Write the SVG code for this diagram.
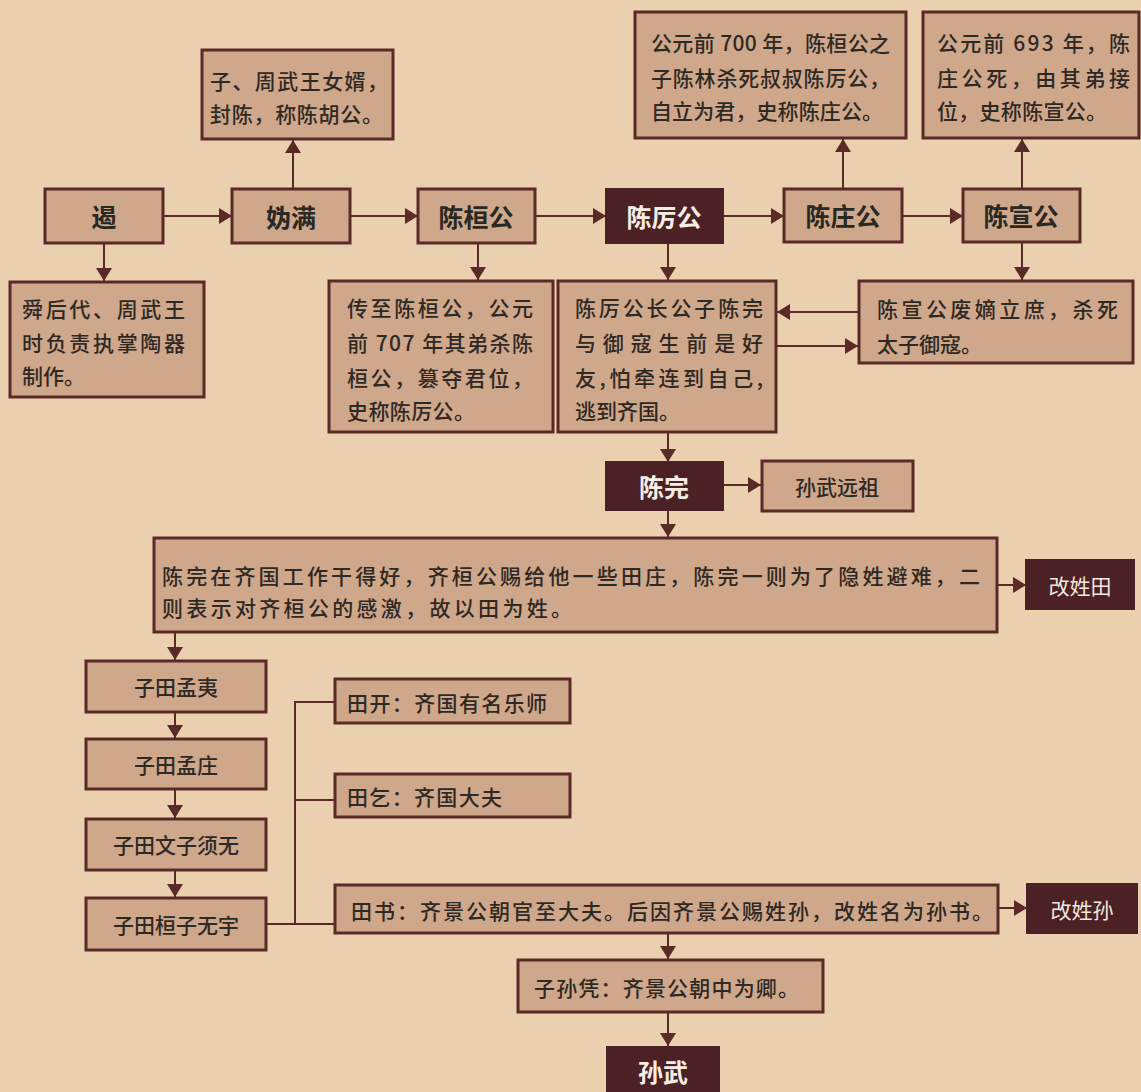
<svg xmlns="http://www.w3.org/2000/svg" width="1141" height="1092" viewBox="0 0 1141 1092">
<defs>
<style>
.bg{fill:#ebd0b0}
.n{fill:#cfa78b;stroke:#5a2a26;stroke-width:3}
.d{fill:#4b2125;stroke:#4b2125;stroke-width:2}
.t{font-family:"Noto Sans CJK SC","Noto Sans CJK TC",sans-serif;font-size:21px;font-weight:500;fill:#2f2924;dominant-baseline:central}
.h{font-family:"Noto Sans CJK SC",sans-serif;font-size:25px;font-weight:700;fill:#2a2822;text-anchor:middle;dominant-baseline:central}
.w{font-family:"Noto Sans CJK SC",sans-serif;font-size:25px;font-weight:700;fill:#f6ede4;text-anchor:middle;dominant-baseline:central}
.wl{font-family:"Noto Sans CJK SC",sans-serif;font-size:21px;font-weight:400;fill:#f3e8de;text-anchor:middle;dominant-baseline:central}
.c{fill:none;stroke:#5a2a26;stroke-width:2}
.a{marker-end:url(#ah)}
</style>
<marker id="ah" viewBox="0 0 13 16" refX="13" refY="8" markerWidth="13" markerHeight="16" markerUnits="userSpaceOnUse" orient="auto">
<path d="M0,0 L13,8 L0,16 Z" fill="#5a2a26"/>
</marker>
</defs>
<rect class="bg" x="0" y="0" width="1141" height="1092"/>

<g id="connectors">
<line class="c a" x1="163" y1="216" x2="232" y2="216"/>
<line class="c a" x1="350" y1="216" x2="418" y2="216"/>
<line class="c a" x1="535" y1="216" x2="606" y2="216"/>
<line class="c a" x1="723" y1="216" x2="784" y2="216"/>
<line class="c a" x1="902" y1="216" x2="963" y2="216"/>
<line class="c a" x1="293" y1="188" x2="293" y2="140"/>
<line class="c a" x1="843" y1="188" x2="843" y2="139"/>
<line class="c a" x1="1022" y1="188" x2="1022" y2="139"/>
<line class="c a" x1="104" y1="243" x2="104" y2="281"/>
<line class="c a" x1="478" y1="243" x2="478" y2="280"/>
<line class="c a" x1="668" y1="243" x2="668" y2="280"/>
<line class="c a" x1="1022" y1="242" x2="1022" y2="280"/>
<line class="c a" x1="859" y1="312" x2="777" y2="312"/>
<line class="c a" x1="776" y1="346" x2="858" y2="346"/>
<line class="c a" x1="668" y1="432" x2="668" y2="462"/>
<line class="c a" x1="723" y1="485" x2="761" y2="485"/>
<line class="c a" x1="668" y1="510" x2="668" y2="537"/>
<line class="c a" x1="997" y1="585" x2="1026" y2="585"/>
<line class="c a" x1="175" y1="632" x2="175" y2="660"/>
<line class="c a" x1="175" y1="712" x2="175" y2="738"/>
<line class="c a" x1="175" y1="789" x2="175" y2="818"/>
<line class="c a" x1="175" y1="870" x2="175" y2="897"/>
<path class="c" d="M266,924 H335 M295,924 V702 H335 M295,800 H335"/>
<line class="c a" x1="998" y1="908" x2="1027" y2="908"/>
<line class="c a" x1="668" y1="933" x2="668" y2="959"/>
<line class="c a" x1="668" y1="1012" x2="668" y2="1046"/>
</g>

<g id="n-e">
<rect class="n" x="45" y="189" width="118" height="54"/>
<text class="h" x="104" y="216">遏</text>
</g>
<g id="n-guiman">
<rect class="n" x="232" y="189" width="118" height="54"/>
<text class="h" x="291" y="216">妫满</text>
</g>
<g id="n-huangong">
<rect class="n" x="418" y="189" width="117" height="54"/>
<text class="h" x="476" y="216">陈桓公</text>
</g>
<g id="n-ligong">
<rect class="d" x="606" y="189" width="117" height="54"/>
<text class="w" x="664" y="216">陈厉公</text>
</g>
<g id="n-zhuanggong">
<rect class="n" x="784" y="189" width="118" height="53"/>
<text class="h" x="843" y="215">陈庄公</text>
</g>
<g id="n-xuangong">
<rect class="n" x="963" y="189" width="117" height="53"/>
<text class="h" x="1021" y="215">陈宣公</text>
</g>

<g id="n-guiman-note">
<rect class="n" x="202" y="50" width="191" height="89"/>
<text class="t" x="210" y="80" textLength="178" lengthAdjust="spacing">子、周武王女婿，</text>
<text class="t" x="210" y="113" textLength="173" lengthAdjust="spacing">封陈，称陈胡公。</text>
</g>
<g id="n-zhuang-note">
<rect class="n" x="635" y="12" width="271" height="126"/>
<text class="t" x="651" y="42" textLength="239" lengthAdjust="spacing">公元前 700 年，陈桓公之</text>
<text class="t" x="651" y="77" textLength="239" lengthAdjust="spacing">子陈林杀死叔叔陈厉公，</text>
<text class="t" x="651" y="110" textLength="232" lengthAdjust="spacing">自立为君，史称陈庄公。</text>
</g>
<g id="n-xuan-note">
<rect class="n" x="923" y="12" width="216" height="126"/>
<text class="t" x="937" y="42" textLength="193" lengthAdjust="spacing">公元前 693 年，陈</text>
<text class="t" x="937" y="77" textLength="193" lengthAdjust="spacing">庄公死，由其弟接</text>
<text class="t" x="937" y="110" textLength="170" lengthAdjust="spacing">位，史称陈宣公。</text>
</g>

<g id="n-e-note">
<rect class="n" x="10" y="282" width="194" height="115"/>
<text class="t" x="22" y="308" textLength="163" lengthAdjust="spacing">舜后代、周武王</text>
<text class="t" x="22" y="342" textLength="163" lengthAdjust="spacing">时负责执掌陶器</text>
<text class="t" x="22" y="375">制作。</text>
</g>
<g id="n-huan-note">
<rect class="n" x="329" y="281" width="224" height="151"/>
<text class="t" x="347" y="307" textLength="186" lengthAdjust="spacing">传至陈桓公，公元</text>
<text class="t" x="347" y="342" textLength="186" lengthAdjust="spacing">前 707 年其弟杀陈</text>
<text class="t" x="347" y="377" textLength="186" lengthAdjust="spacing">桓公，篡夺君位，</text>
<text class="t" x="347" y="410" textLength="128" lengthAdjust="spacing">史称陈厉公。</text>
</g>
<g id="n-li-note">
<rect class="n" x="558" y="281" width="218" height="151"/>
<text class="t" x="575" y="307" textLength="188" lengthAdjust="spacing">陈厉公长公子陈完</text>
<text class="t" x="575" y="342" textLength="188" lengthAdjust="spacing">与御寇生前是好</text>
<text class="t" x="575" y="377" textLength="188" lengthAdjust="spacing">友,怕牵连到自己,</text>
<text class="t" x="575" y="410">逃到齐国。</text>
</g>
<g id="n-xuan-note2">
<rect class="n" x="859" y="281" width="274" height="82"/>
<text class="t" x="877" y="308" textLength="241" lengthAdjust="spacing">陈宣公废嫡立庶，杀死</text>
<text class="t" x="877" y="343">太子御寇。</text>
</g>

<g id="n-chenwan">
<rect class="d" x="606" y="462" width="117" height="48"/>
<text class="w" x="664" y="486">陈完</text>
</g>
<g id="n-yuanzu">
<rect class="n" x="762" y="461" width="151" height="50"/>
<text class="t" x="837" y="486" text-anchor="middle" font-size="22">孙武远祖</text>
</g>
<g id="n-qi">
<rect class="n" x="154" y="538" width="843" height="94"/>
<text class="t" x="162" y="575" textLength="818" lengthAdjust="spacing">陈完在齐国工作干得好，齐桓公赐给他一些田庄，陈完一则为了隐姓避难，二</text>
<text class="t" x="162" y="607" textLength="410" lengthAdjust="spacing">则表示对齐桓公的感激，故以田为姓。</text>
</g>
<g id="n-gaitian">
<rect class="d" x="1026" y="560" width="108" height="49"/>
<text class="wl" x="1080" y="585">改姓田</text>
</g>

<g id="n-mengyi">
<rect class="n" x="86" y="661" width="180" height="51"/>
<text class="t" x="176" y="686" text-anchor="middle" font-size="22">子田孟夷</text>
</g>
<g id="n-mengzhuang">
<rect class="n" x="86" y="739" width="180" height="50"/>
<text class="t" x="176" y="764" text-anchor="middle" font-size="22">子田孟庄</text>
</g>
<g id="n-xuwu">
<rect class="n" x="86" y="819" width="180" height="51"/>
<text class="t" x="176" y="844" text-anchor="middle" font-size="22">子田文子须无</text>
</g>
<g id="n-wuyu">
<rect class="n" x="86" y="898" width="180" height="52"/>
<text class="t" x="176" y="924" text-anchor="middle" font-size="22">子田桓子无宇</text>
</g>

<g id="n-tiankai">
<rect class="n" x="335" y="679" width="235" height="44"/>
<text class="t" x="347" y="702" textLength="200" lengthAdjust="spacing">田开：齐国有名乐师</text>
</g>
<g id="n-tianqi">
<rect class="n" x="335" y="774" width="235" height="43"/>
<text class="t" x="347" y="796" textLength="155" lengthAdjust="spacing">田乞：齐国大夫</text>
</g>
<g id="n-tianshu">
<rect class="n" x="335" y="885" width="663" height="48"/>
<text class="t" x="351" y="910" textLength="642" lengthAdjust="spacing">田书：齐景公朝官至大夫。后因齐景公赐姓孙，改姓名为孙书。</text>
</g>
<g id="n-gaisun">
<rect class="d" x="1027" y="884" width="110" height="49"/>
<text class="wl" x="1082" y="909">改姓孙</text>
</g>
<g id="n-sunping">
<rect class="n" x="518" y="960" width="305" height="52"/>
<text class="t" x="534" y="987" textLength="265" lengthAdjust="spacing">子孙凭：齐景公朝中为卿。</text>
</g>
<g id="n-sunwu">
<rect class="d" x="607" y="1047" width="112" height="50"/>
<text class="w" x="663" y="1071">孙武</text>
</g>
</svg>
